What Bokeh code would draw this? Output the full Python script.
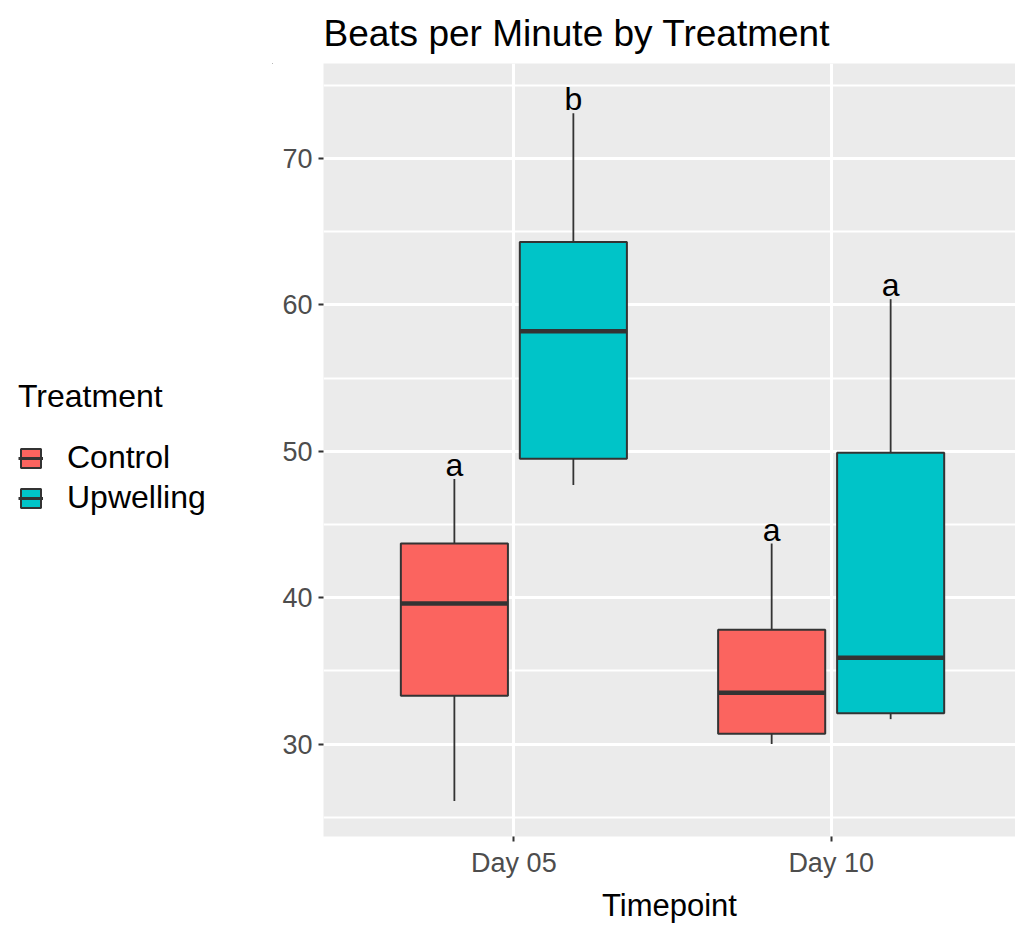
from bokeh.plotting import figure
from bokeh.layouts import row
from bokeh.models import (Range1d, FixedTicker, SingleIntervalTicker, Legend, LegendItem,
                          ColumnDataSource)
from bokeh.embed import file_html
from bokeh.resources import INLINE

# Summary statistics of heart rate (beats per minute) per timepoint and treatment
timepoints = ["Day 05", "Day 10"]
treatments = ["Control", "Upwelling"]

control_lower = [26.1, 30.0]
control_q1 = [33.3, 30.7]
control_median = [39.6, 33.5]
control_q3 = [43.7, 37.8]
control_upper = [48.1, 43.7]

upwelling_lower = [47.7, 31.7]
upwelling_q1 = [49.5, 32.1]
upwelling_median = [58.2, 35.9]
upwelling_q3 = [64.3, 49.9]
upwelling_upper = [73.1, 60.4]

# Significance group letters
control_letters = ["a", "a"]
upwelling_letters = ["b", "a"]

colors = {"Control": "#FB645F", "Upwelling": "#00C4C8"}
FONT = "Liberation Sans"
EDGE = "#333333"

DODGE = 0.1875
BOX_W = 0.3375
LEGEND_W = 273

# ---- main panel -------------------------------------------------------------
p = figure(width=1015 - LEGEND_W, height=926, output_backend="svg", toolbar_location=None,
           x_range=Range1d(0.4, 2.581), y_range=Range1d(23.68, 76.5),
           min_border_left=50, min_border_right=0, min_border_top=63,
           min_border_bottom=90)

p.background_fill_color = "#EBEBEB"
p.border_fill_color = "white"
p.outline_line_color = None

p.title.text = "Beats per Minute by Treatment"
p.title.text_font = FONT
p.title.text_font_size = "37px"
p.title.text_font_style = "normal"
p.title.text_color = "black"
p.title.align = "left"
p.title.standoff = 19

p.xaxis.ticker = FixedTicker(ticks=[1, 2])
p.xaxis.major_label_overrides = {1: timepoints[0], 2: timepoints[1]}
p.yaxis.ticker = SingleIntervalTicker(interval=10, num_minor_ticks=2)
p.xgrid.grid_line_color = "white"
p.xgrid.grid_line_width = 3
p.ygrid.grid_line_color = "white"
p.ygrid.grid_line_width = 3
p.ygrid.minor_grid_line_color = "white"
p.ygrid.minor_grid_line_width = 1.8

for ax in (p.xaxis, p.yaxis):
    ax.axis_line_color = None
    ax.major_tick_line_color = EDGE
    ax.major_tick_line_width = 2
    ax.major_tick_in = 0
    ax.major_tick_out = 5
    ax.minor_tick_line_color = None
    ax.major_label_text_font = FONT
    ax.major_label_text_font_size = "27px"
    ax.major_label_text_color = "#4D4D4D"

p.yaxis.major_label_standoff = 6
p.xaxis.major_label_standoff = 6
p.xaxis.axis_label = "Timepoint"
p.xaxis.axis_label_text_font = FONT
p.xaxis.axis_label_text_font_size = "31px"
p.xaxis.axis_label_text_font_style = "normal"
p.xaxis.axis_label_text_color = "black"
p.xaxis.axis_label_standoff = 7

groups = [
    ("Control", -DODGE, control_lower, control_q1, control_median, control_q3,
     control_upper, control_letters),
    ("Upwelling", DODGE, upwelling_lower, upwelling_q1, upwelling_median, upwelling_q3,
     upwelling_upper, upwelling_letters),
]

for name, off, lo, q1, med, q3, up, letters in groups:
    xs = [i + 1 + off for i in range(len(timepoints))]
    src = ColumnDataSource(dict(
        x=xs, lo=lo, q1=q1, med=med, q3=q3, up=up, letters=letters,
        x0=[x - BOX_W / 2 for x in xs], x1=[x + BOX_W / 2 for x in xs],
    ))
    # whiskers
    p.segment(x0="x", y0="q3", x1="x", y1="up", source=src, line_color=EDGE, line_width=1.8)
    p.segment(x0="x", y0="q1", x1="x", y1="lo", source=src, line_color=EDGE, line_width=1.8)
    # boxes and medians
    p.vbar(x="x", width=BOX_W, top="q3", bottom="q1", source=src,
           fill_color=colors[name], line_color=EDGE, line_width=2)
    p.segment(x0="x0", y0="med", x1="x1", y1="med", source=src,
              line_color=EDGE, line_width=4.5)
    # group letters above the upper whisker
    p.text(x="x", y="up", text="letters", source=src, text_align="center",
           text_baseline="bottom", text_font={"value": FONT},
           text_font_size="32px", text_color="black", y_offset=4)

# ---- legend column ----------------------------------------------------------
lf = figure(width=LEGEND_W, height=926, output_backend="svg", toolbar_location=None,
            x_range=Range1d(0, 1), y_range=Range1d(0, 1), min_border=0,
            x_axis_type=None, y_axis_type=None)
lf.outline_line_color = None
lf.background_fill_color = "white"
lf.border_fill_color = "white"

items = []
for name in treatments:
    # key glyphs sit outside the visible range; only the legend draws them
    box = lf.vbar(x=[10], width=0.1, top=[10], bottom=[9], fill_color=colors[name],
                  line_color=EDGE, line_width=2)
    mid = lf.segment(x0=[10], y0=[10], x1=[11], y1=[10], line_color=EDGE, line_width=3)
    items.append(LegendItem(label=name, renderers=[box, mid]))

legend = Legend(items=items, title="Treatment", location=(18, 320))
legend.title_text_font = FONT
legend.title_text_font_size = "32px"
legend.title_text_font_style = "normal"
legend.title_text_color = "black"
legend.title_standoff = 24
legend.label_text_font = FONT
legend.label_text_font_size = "32px"
legend.label_text_color = "black"
legend.glyph_width = 25
legend.glyph_height = 24
legend.label_standoff = 24
legend.spacing = 3
legend.padding = 0
legend.margin = 0
legend.border_line_color = None
legend.background_fill_alpha = 0
lf.add_layout(legend, "center")

layout = row(lf, p, spacing=0)
open("out.html", "w").write(file_html(layout, INLINE))
